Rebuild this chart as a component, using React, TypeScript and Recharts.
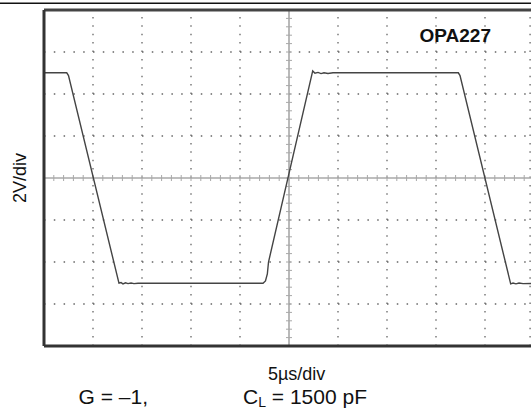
import * as React from 'react';
import { LineChart, Line, XAxis, YAxis, ReferenceLine } from 'recharts';

// time in µs (5 µs/div), output in V (2 V/div)
const TIME_US = [
  0, 2.32, 2.5, 7.65, 7.86, 8.06, 8.32, 8.57, 8.88, 9.18, 9.59,
  22.35, 22.6, 22.79, 22.91, 27.42, 27.65, 27.96, 28.27, 28.57, 28.98, 29.49,
  42.28, 42.45, 47.62, 47.86, 48.16, 48.47, 48.88, 50,
];
const VOLTS = [
  5.01, 5.01, 4.88, -5.01, -4.98, -5.04, -4.99, -5.03, -5.0, -5.03, -5.01,
  -5.01, -4.9, -4.57, -4.0, 5.1, 4.99, 5.03, 4.97, 5.01, 4.98, 5.01,
  5.01, 4.88, -5.04, -5.0, -5.04, -5.0, -5.03, -5.02,
];
const X_GRID = [5, 10, 15, 20, 30, 35, 40, 45, 49.6];
const Y_GRID = [-6, -4, -2, 2, 4, 6];

const TITLE = 'OPA227';
const Y_LABEL = '2V/div';
const X_LABEL = '5µs/div';
const GAIN_LABEL = 'G = –1,';
const LOAD_LABEL = ['C', 'L', ' = 1500 pF'];

const FONT = '"Liberation Sans", Arial, Helvetica, sans-serif';

const data = TIME_US.map((t, i) => ({ t, v: VOLTS[i] }));

// center graticule line with minor tick marks
function graticule(count: number) {
  return (p: any) => {
    const { x1, y1, x2, y2 } = p;
    const horiz = Math.abs(y2 - y1) < Math.abs(x2 - x1);
    const marks = [];
    for (let i = 1; i < count; i++) {
      const f = i / count;
      const x = x1 + (x2 - x1) * f;
      const y = y1 + (y2 - y1) * f;
      marks.push(horiz
        ? <line key={i} x1={x} x2={x} y1={y - 3} y2={y + 3} />
        : <line key={i} x1={x - 3} x2={x + 3} y1={y} y2={y} />);
    }
    return (
      <g stroke="#a8a8a8" strokeWidth={1}>
        <line x1={x1} y1={y1} x2={x2} y2={y2} strokeWidth={1.6} />
        {marks}
      </g>
    );
  };
}

export default function App() {
  return (
    <div style={{ position: 'absolute', left: 0, top: 0, width: 531, height: 411, overflow: 'hidden', background: '#fff' }}>
      <LineChart width={540} height={411} data={data} margin={{ top: 10, right: 6, bottom: 0, left: 0 }}>
        <XAxis type="number" dataKey="t" domain={[0, 50]} height={65}
          tick={false} tickLine={false} axisLine={{ stroke: '#333', strokeWidth: 3 }} />
        <YAxis type="number" domain={[-8, 8]} width={44}
          tick={false} tickLine={false} axisLine={{ stroke: '#333', strokeWidth: 3 }} />
        {Y_GRID.map((v) => (
          <ReferenceLine key={'h' + v} y={v} stroke="#666" strokeWidth={1.3} strokeDasharray="1.5 8.3" />
        ))}
        {X_GRID.map((t) => (
          <ReferenceLine key={'v' + t} x={t} stroke="#666" strokeWidth={1.3} strokeDasharray="1.5 6.9" />
        ))}
        <ReferenceLine y={0} shape={graticule(50)} />
        <ReferenceLine x={25} shape={graticule(40)} />
        <ReferenceLine y={8} stroke="#444" strokeWidth={3} />
        <Line type="linear" dataKey="v" stroke="#444" strokeWidth={1.4} dot={false} isAnimationActive={false} />
      </LineChart>
      <svg width={531} height={411} style={{ position: 'absolute', left: 0, top: 0, pointerEvents: 'none' }}
        fontFamily={FONT} fill="#111">
        <line x1={0} x2={531} y1={3.3} y2={3.3} stroke="#111" strokeWidth={1.6} />
        <text x={491} y={42} textAnchor="end" fontSize={19} fontWeight="bold">{TITLE}</text>
        <text transform="translate(25.5,178) rotate(-90)" textAnchor="middle" fontSize={18}>{Y_LABEL}</text>
        <text x={296.6} y={380} textAnchor="middle" fontSize={18}>{X_LABEL}</text>
        <text x={78.6} y={404} fontSize={21}>{GAIN_LABEL}</text>
        <text x={243} y={404} fontSize={21}>
          <tspan>{LOAD_LABEL[0]}</tspan>
          <tspan fontSize={14} dy={3}>{LOAD_LABEL[1]}</tspan>
          <tspan dy={-3}>{LOAD_LABEL[2]}</tspan>
        </text>
      </svg>
    </div>
  );
}
